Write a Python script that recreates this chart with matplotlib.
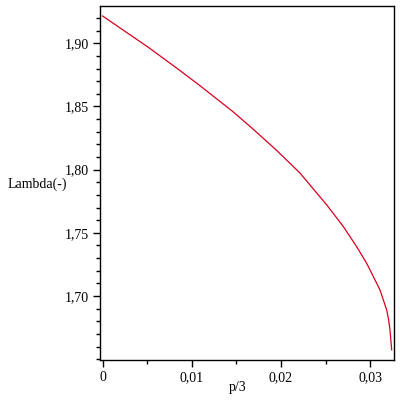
import matplotlib
matplotlib.use("Agg")
import matplotlib.pyplot as plt
from matplotlib.ticker import MultipleLocator, FuncFormatter

# values
p = [0.0, 0.00525, 0.00862, 0.01087, 0.01461, 0.01648, 0.01929, 0.02210,
     0.02510, 0.02697, 0.02847, 0.02960, 0.03034, 0.03109, 0.03184,
     0.03205, 0.03221, 0.03240]
lam = [1.9216, 1.8962, 1.8787, 1.8667, 1.8459, 1.8345, 1.8167, 1.7975,
       1.7723, 1.7551, 1.7391, 1.7259, 1.7155, 1.7048, 1.6890,
       1.6815, 1.6732, 1.6574]

x_ticks = [0.0, 0.01, 0.02, 0.03]
y_ticks = [1.70, 1.75, 1.80, 1.85, 1.90]

plt.rcParams['font.family'] = ['Liberation Serif', 'DejaVu Serif']

fig = plt.figure(figsize=(4, 4), dpi=100)
ax = fig.add_axes([0.25, 0.1, 0.735, 0.885])
ax.plot(p, lam, color="#d8001e", lw=0.9)

ax.set_xlim(-0.00029, 0.03266)
ax.set_ylim(1.6494, 1.9295)
ax.set_xticks(x_ticks)
ax.set_yticks(y_ticks)
ax.xaxis.set_minor_locator(MultipleLocator(0.005))
ax.yaxis.set_minor_locator(MultipleLocator(0.01))


def comma_x(v, pos):
    return "0" if abs(v) < 1e-9 else f"{v:.2f}".replace(".", ",")


def comma_y(v, pos):
    return f"{v:.2f}".replace(".", ",")


ax.xaxis.set_major_formatter(FuncFormatter(comma_x))
ax.yaxis.set_major_formatter(FuncFormatter(comma_y))
ax.tick_params(which='major', direction='out', length=5, width=1, labelsize=10, pad=3)
ax.tick_params(which='minor', direction='out', length=3, width=1)
for s in ax.spines.values():
    s.set_linewidth(1)
    s.set_color("black")

fig.text(8 / 400, 1 - 184 / 400, "Lambda(-)", fontsize=10, ha='left', va='center')
fig.text(238 / 400, 1 - 387 / 400, "p/3", fontsize=10, ha='center', va='center')

fig.savefig("out.png", dpi=100)
